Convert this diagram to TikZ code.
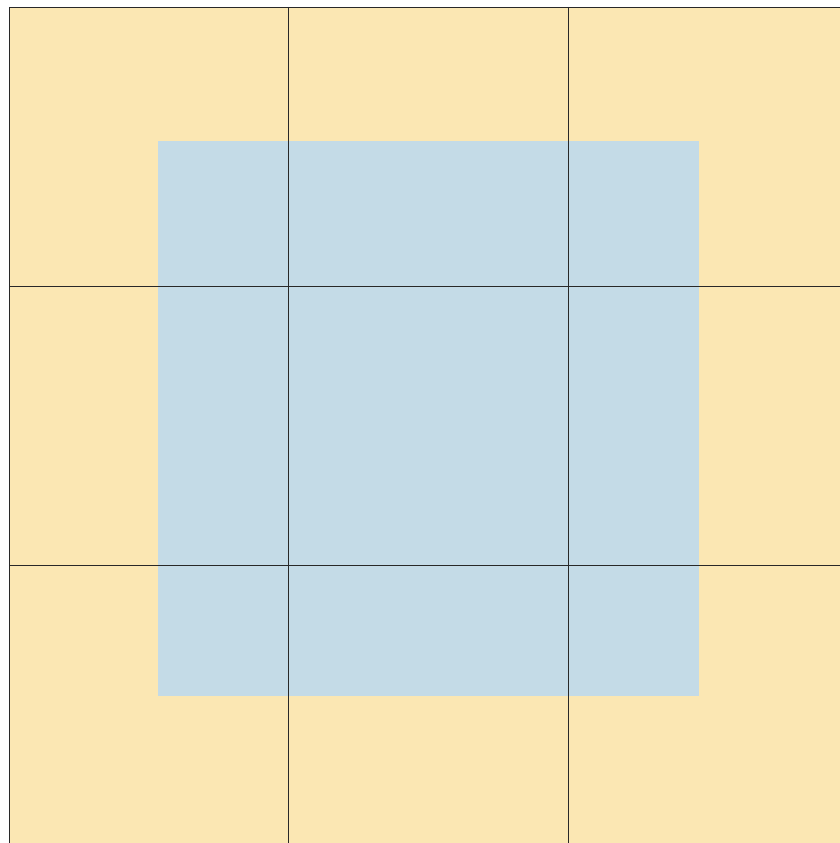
\documentclass[tikz,border=0pt]{standalone}
\definecolor{cellyellow}{RGB}{251,231,179}
\definecolor{cellblue}{RGB}{196,219,231}
\definecolor{gridline}{RGB}{40,40,40}
\tikzset{gridrule/.style={draw=gridline,line width=0.8pt}}
\begin{document}
\begin{tikzpicture}[x=1pt,y=-1pt]
\useasboundingbox (0,0) rectangle (840,843);
\fill[white] (0,0) rectangle (840,843);
\fill[cellyellow] (9,7) rectangle (840,843);
\fill[cellblue] (158,141) rectangle (698.5,695.5);
\foreach \x in {9,288.5,568} {\draw[gridrule] (\x,7) -- (\x,843);}
\foreach \y in {7,286,565.5} {\draw[gridrule] (9,\y) -- (840,\y);}
\end{tikzpicture}
\end{document}
